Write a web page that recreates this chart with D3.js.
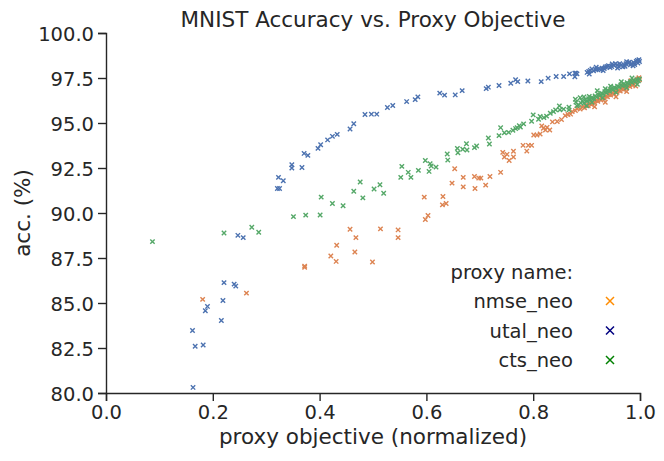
<!DOCTYPE html>
<html>
<head>
<meta charset="utf-8">
<script src="https://cdn.jsdelivr.net/npm/d3@7"></script>
<style>
  body { margin: 0; background: #fff; }
  svg { display: block; font-family: "DejaVu Sans", sans-serif; }
</style>
</head>
<body>
<div id="chart"></div>
<script>
// values

const xTicks = [0.0, 0.2, 0.4, 0.6, 0.8, 1.0];
const yTicks = [80.0, 82.5, 85.0, 87.5, 90.0, 92.5, 95.0, 97.5, 100.0];

const seriesNames = ["nmse_neo", "utal_neo", "cts_neo"];
const pointColors = ["#dd8452", "#4c72b0", "#55a868"];
const legendColors = ["darkorange", "navy", "green"];

// utal_neo (blue)
const utalX = [0.163, 0.162, 0.167, 0.182, 0.186, 0.190, 0.216, 0.219, 0.221, 0.240, 0.243, 0.247, 0.257,
  0.321, 0.325, 0.323, 0.332, 0.348, 0.348, 0.367, 0.371, 0.378, 0.397, 0.402, 0.415, 0.424, 0.433,
  0.457, 0.464, 0.485, 0.497, 0.507, 0.527, 0.537, 0.563, 0.579, 0.584, 0.625, 0.634, 0.654, 0.667,
  0.712, 0.716, 0.736, 0.758, 0.767, 0.771, 0.790, 0.815, 0.828, 0.843, 0.857, 0.868, 0.878, 0.880,
  0.878, 0.882, 0.901, 0.904, 0.907, 0.913, 0.917, 0.920, 0.924, 0.929, 0.935, 0.938, 0.941, 0.947,
  0.951, 0.954, 0.957, 0.960, 0.965, 0.970, 0.974, 0.978, 0.982, 0.985, 0.988, 0.993, 0.996, 0.999,
  0.910, 0.927, 0.944, 0.962, 0.972, 0.980, 0.990, 0.995, 0.968, 0.933,
  0.905, 0.918, 0.931, 0.948, 0.958, 0.975, 0.987, 0.998];
const utalY = [80.31, 83.47, 82.60, 82.67, 84.57, 84.81, 84.03, 85.14, 86.13, 86.05, 85.94, 88.76, 88.63,
  91.36, 91.36, 91.98, 91.79, 92.68, 92.50, 92.53, 93.31, 93.20, 93.59, 93.79, 94.06, 94.26, 94.37,
  94.67, 94.96, 95.47, 95.49, 95.49, 95.86, 95.97, 96.19, 96.30, 96.45, 96.66, 96.55, 96.56, 96.80,
  96.91, 96.99, 97.08, 97.21, 97.40, 97.30, 97.33, 97.30, 97.49, 97.58, 97.58, 97.73, 97.77, 97.77,
  97.57, 97.73, 97.81, 97.86, 97.92, 97.90, 97.96, 97.99, 98.01, 98.05, 98.11, 98.14, 98.18, 98.14,
  98.20, 98.29, 98.23, 98.14, 98.22, 98.23, 98.29, 98.33, 98.23, 98.29, 98.36, 98.42, 98.33, 98.42,
  98.00, 97.95, 98.08, 98.30, 98.15, 98.38, 98.25, 98.48, 98.12, 98.03,
  97.72, 98.10, 97.92, 98.28, 98.05, 98.40, 98.18, 98.52];

// nmse_neo (orange)
const nmseX = [0.181, 0.263, 0.372, 0.372, 0.421, 0.431, 0.432, 0.457, 0.466, 0.468, 0.499, 0.514, 0.547,
  0.547, 0.596, 0.598, 0.603, 0.630, 0.631, 0.637, 0.648, 0.653, 0.669, 0.669, 0.690, 0.691, 0.698,
  0.702, 0.711, 0.719, 0.739, 0.743, 0.746, 0.751, 0.755, 0.763, 0.763, 0.781, 0.791, 0.797, 0.788,
  0.801, 0.807, 0.813, 0.816, 0.819, 0.823, 0.826, 0.831, 0.836, 0.845, 0.853, 0.860, 0.865, 0.870,
  0.873, 0.879, 0.882, 0.888, 0.892, 0.896, 0.899, 0.903, 0.906, 0.909, 0.912, 0.915, 0.918, 0.921,
  0.924, 0.927, 0.930, 0.933, 0.936, 0.939, 0.942, 0.945, 0.948, 0.951, 0.954, 0.957, 0.960, 0.963,
  0.966, 0.969, 0.972, 0.975, 0.978, 0.981, 0.984, 0.987, 0.990, 0.992, 0.994, 0.996, 0.998, 0.999,
  0.985, 0.970,
  0.905, 0.915, 0.925, 0.935, 0.945, 0.955, 0.965, 0.975, 0.983, 0.992];
const nmseY = [85.20, 85.55, 87.05, 86.98, 87.61, 87.31, 88.21, 89.10, 87.83, 88.63, 87.28, 89.12, 89.06,
  88.63, 90.88, 89.64, 89.86, 90.45, 90.92, 90.53, 91.66, 92.46, 91.98, 91.45, 92.03, 91.36, 91.94,
  91.94, 91.55, 92.03, 92.26, 93.37, 93.11, 93.26, 92.92, 93.43, 93.11, 93.76, 93.76, 93.76, 93.44,
  94.33, 94.33, 94.39, 94.84, 94.71, 94.61, 94.76, 94.61, 95.06, 95.08, 95.19, 95.41, 95.47, 95.49,
  95.63, 95.69, 95.80, 95.77, 95.88, 95.85, 96.00, 95.95, 96.08, 96.02, 96.15, 96.12, 96.25, 96.20,
  96.33, 96.28, 96.40, 96.37, 96.50, 96.45, 96.58, 96.55, 96.66, 96.62, 96.74, 96.70, 96.82, 96.78,
  96.90, 96.86, 96.98, 96.95, 97.06, 97.03, 97.14, 97.12, 97.24, 97.30, 97.38, 97.45, 97.52, 97.40,
  97.25, 97.05,
  96.30, 95.90, 96.55, 96.15, 96.80, 96.45, 97.10, 96.75, 97.35, 97.05];

// cts_neo (green)
const ctsX = [0.087, 0.221, 0.273, 0.286, 0.351, 0.374, 0.401, 0.403, 0.424, 0.444, 0.464, 0.476, 0.481,
  0.502, 0.513, 0.520, 0.552, 0.554, 0.566, 0.571, 0.585, 0.598, 0.607, 0.609, 0.605, 0.618, 0.639,
  0.640, 0.658, 0.659, 0.668, 0.675, 0.676, 0.690, 0.694, 0.716, 0.718, 0.736, 0.739, 0.746, 0.754,
  0.762, 0.767, 0.770, 0.774, 0.776, 0.782, 0.797, 0.800, 0.810, 0.813, 0.820, 0.825, 0.832, 0.838,
  0.842, 0.849, 0.850, 0.857, 0.867, 0.867, 0.879, 0.880, 0.882, 0.885, 0.889, 0.892, 0.895, 0.898,
  0.901, 0.904, 0.907, 0.910, 0.913, 0.916, 0.919, 0.922, 0.925, 0.928, 0.931, 0.934, 0.937, 0.940,
  0.943, 0.946, 0.949, 0.952, 0.955, 0.958, 0.961, 0.964, 0.967, 0.970, 0.973, 0.976, 0.979, 0.982,
  0.985, 0.988, 0.991, 0.994, 0.997, 0.999, 0.905, 0.935,
  0.895, 0.910, 0.920, 0.930, 0.945, 0.955, 0.965, 0.975, 0.985, 0.995, 0.888, 0.900];
const ctsY = [88.41, 88.89, 89.21, 88.93, 89.80, 89.88, 89.89, 90.88, 90.53, 90.40, 91.21, 91.72, 90.84,
  91.33, 91.57, 91.10, 91.98, 92.59, 92.26, 91.98, 92.37, 92.92, 92.74, 92.61, 92.31, 92.55, 93.28,
  92.94, 93.59, 93.35, 93.54, 93.85, 93.50, 93.63, 93.72, 94.17, 93.83, 94.30, 94.74, 94.46, 94.48,
  94.60, 94.69, 94.74, 94.85, 94.78, 94.95, 95.10, 95.45, 95.21, 95.36, 95.30, 95.38, 95.54, 95.63,
  95.73, 95.95, 95.73, 95.77, 95.88, 95.73, 96.32, 96.16, 95.95, 95.99, 96.12, 96.22, 96.10, 96.30,
  96.20, 96.35, 96.28, 96.42, 96.36, 96.50, 96.44, 96.58, 96.52, 96.66, 96.60, 96.74, 96.68, 96.82,
  96.76, 96.90, 96.84, 96.98, 96.92, 97.05, 97.00, 97.12, 97.06, 97.18, 97.12, 97.24, 97.18, 97.30,
  97.24, 97.36, 97.30, 97.40, 97.35, 97.45, 96.48, 96.90,
  96.45, 96.15, 96.80, 96.40, 97.05, 96.70, 97.30, 96.95, 97.50, 97.15, 96.40, 95.95];

const series = [
  { name: seriesNames[0], xs: nmseX, ys: nmseY, color: pointColors[0] },
  { name: seriesNames[1], xs: utalX, ys: utalY, color: pointColors[1] },
  { name: seriesNames[2], xs: ctsX, ys: ctsY, color: pointColors[2] }
];

const width = 664, height = 461;
const margin = { top: 33, right: 24, bottom: 68, left: 106 };

const svg = d3.select("#chart").append("svg")
  .attr("width", width)
  .attr("height", height);

const x = d3.scaleLinear().domain([0, 1]).range([margin.left, width - margin.right]);
const y = d3.scaleLinear().domain([80, 100]).range([height - margin.bottom, margin.top]);

// axes
const xAxis = svg.append("g")
  .attr("transform", `translate(0,${height - margin.bottom})`)
  .call(d3.axisBottom(x).tickValues(xTicks).tickFormat(d3.format(".1f")).tickSizeOuter(0).tickSize(8).tickPadding(4));

const yAxis = svg.append("g")
  .attr("transform", `translate(${margin.left},0)`)
  .call(d3.axisLeft(y).tickValues(yTicks).tickFormat(d3.format(".1f")).tickSizeOuter(0).tickSize(8).tickPadding(4));

[xAxis, yAxis].forEach(g => {
  g.selectAll("path").attr("stroke", "#262626").attr("stroke-width", 1.4);
  g.selectAll("line").attr("stroke", "#262626").attr("stroke-width", 1.4);
  g.selectAll("text").attr("fill", "#262626").style("font-size", "19.5px")
    .style("font-family", "'DejaVu Sans', sans-serif");
});
yAxis.selectAll("text").attr("dy", "0.36em");

// points
const marks = series.flatMap(s => s.xs.map((v, i) => ({ x: v, y: s.ys[i], color: s.color })));
const r = 2.2;
svg.append("g")
  .selectAll("path")
  .data(marks)
  .join("path")
  .attr("transform", d => `translate(${x(d.x)},${y(d.y)})`)
  .attr("d", `M${-r},${-r}L${r},${r}M${-r},${r}L${r},${-r}`)
  .attr("stroke", d => d.color)
  .attr("stroke-width", 1.4)
  .attr("fill", "none");

// title and axis labels
svg.append("text")
  .attr("x", (margin.left + width - margin.right) / 2)
  .attr("y", 27)
  .attr("text-anchor", "middle")
  .attr("fill", "#262626")
  .style("font-size", "21.5px")
  .text("MNIST Accuracy vs. Proxy Objective");

svg.append("text")
  .attr("x", (margin.left + width - margin.right) / 2)
  .attr("y", 444)
  .attr("text-anchor", "middle")
  .attr("fill", "#262626")
  .style("font-size", "21.5px")
  .text("proxy objective (normalized)");

svg.append("text")
  .attr("transform", `translate(30,${(margin.top + height - margin.bottom) / 2}) rotate(-90)`)
  .attr("text-anchor", "middle")
  .attr("fill", "#262626")
  .style("font-size", "21.5px")
  .text("acc. (%)");

// legend
const legend = svg.append("g");
legend.append("text")
  .attr("x", 573)
  .attr("y", 279)
  .attr("text-anchor", "end")
  .attr("fill", "#262626")
  .style("font-size", "19.5px")
  .text("proxy name:");

const rowY = d3.scalePoint().domain(seriesNames).range([308, 367]);
const lr = 4;
seriesNames.forEach((name, i) => {
  legend.append("text")
    .attr("x", 573)
    .attr("y", rowY(name))
    .attr("text-anchor", "end")
    .attr("fill", "#262626")
    .style("font-size", "19.5px")
    .text(name);
  legend.append("path")
    .attr("transform", `translate(610,${rowY(name) - 7})`)
    .attr("d", `M${-lr},${-lr}L${lr},${lr}M${-lr},${lr}L${lr},${-lr}`)
    .attr("stroke", legendColors[i])
    .attr("stroke-width", 1.5);
});
</script>
</body>
</html>
